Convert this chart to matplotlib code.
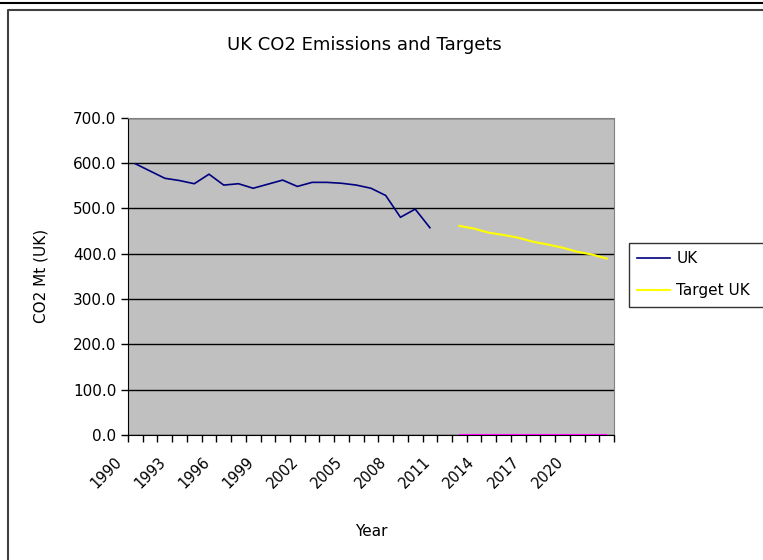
import matplotlib.pyplot as plt
from matplotlib.lines import Line2D
from matplotlib.transforms import ScaledTranslation
import numpy as np

years = list(range(1990, 2023))
uk_years = list(range(1990, 2011))
uk = [598, 582, 566, 561, 554, 575, 551, 554, 544, 553, 562, 548, 557, 557, 555,
      551, 544, 528, 480, 498, 457]
target_years = list(range(2012, 2023))
target = [461, 455, 446, 441, 435, 426, 420, 413, 404, 398, 389]
zero_years = list(range(2012, 2023))
zero = [0] * len(zero_years)

W, H = 763, 560
fig = plt.figure(figsize=(W / 100, H / 100), dpi=100)

# outer frames
fig.add_artist(Line2D([0, 1], [1 - 2.5 / H, 1 - 2.5 / H], color="black", lw=1.5))
fig.add_artist(Line2D([7.5 / W, 7.5 / W, 1], [0, 1 - 9.5 / H, 1 - 9.5 / H],
                      color="#404040", lw=1.5))

ax = fig.add_axes([128 / W, (H - 435) / H, (614 - 128) / W, (435 - 117.5) / H])
ax.set_facecolor("#C0C0C0")

pos = {y: i for i, y in enumerate(years)}
ax.plot([pos[y] for y in uk_years], uk, color="#000080", lw=1.2, label="UK")
ax.plot([pos[y] for y in target_years], target, color="#FFFF00", lw=1.5,
        label="Target UK")
ax.plot([pos[y] for y in zero_years], zero, color="#FF00FF", lw=1.5,
        solid_capstyle="butt", zorder=5)

ax.set_ylim(0, 700)
ax.set_yticks(np.arange(0, 701, 100))
ax.set_yticklabels([f"{v:.1f}" for v in np.arange(0, 701, 100)], fontsize=11)
ax.yaxis.grid(True, color="black", lw=1)
ax.set_axisbelow(True)

# excel-style: tick marks between categories, rotated labels sit left of centre
ax.set_xticks(np.arange(-0.5, len(years), 1))
ax.set_xticklabels([])
ax.set_xlim(-0.5, len(years) - 0.5)
shift = ScaledTranslation(-11 / 100, -19 / 100, fig.dpi_scale_trans)
for y in years[::3]:
    ax.text(pos[y], 0, str(y), rotation=45, ha="right", va="top",
            fontsize=10.5, transform=ax.get_xaxis_transform() + shift)
ax.tick_params(axis="x", length=5, width=1, direction="out")
ax.tick_params(axis="y", length=5, width=1, direction="out")

for side in ["top", "right"]:
    ax.spines[side].set_color("#808080")
ax.spines["bottom"].set_color("black")
ax.spines["left"].set_color("black")

ax.set_xlabel("Year", fontsize=11, va="center")
ax.xaxis.set_label_coords(0.5, (435 - 531) / 317.5)
ax.set_ylabel("CO2 Mt (UK)", fontsize=11, va="center")
ax.yaxis.set_label_coords((41 - 128) / 486, 0.5)
fig.text(364 / W, 1 - 45 / H, "UK CO2 Emissions and Targets", fontsize=13,
         ha="center", va="center")

# legend box runs off the right edge like the original
leg = ax.legend(loc="upper left",
                bbox_to_anchor=(629 / W, 1 - 308 / H, 145 / W, 65 / H),
                bbox_transform=fig.transFigure, mode="expand", fancybox=False,
                fontsize=11, edgecolor="black", borderaxespad=0,
                handlelength=2.15, handletextpad=0.4, labelspacing=1.1,
                borderpad=0.55)
leg.get_frame().set_linewidth(1)

fig.savefig("out.png", dpi=100)
